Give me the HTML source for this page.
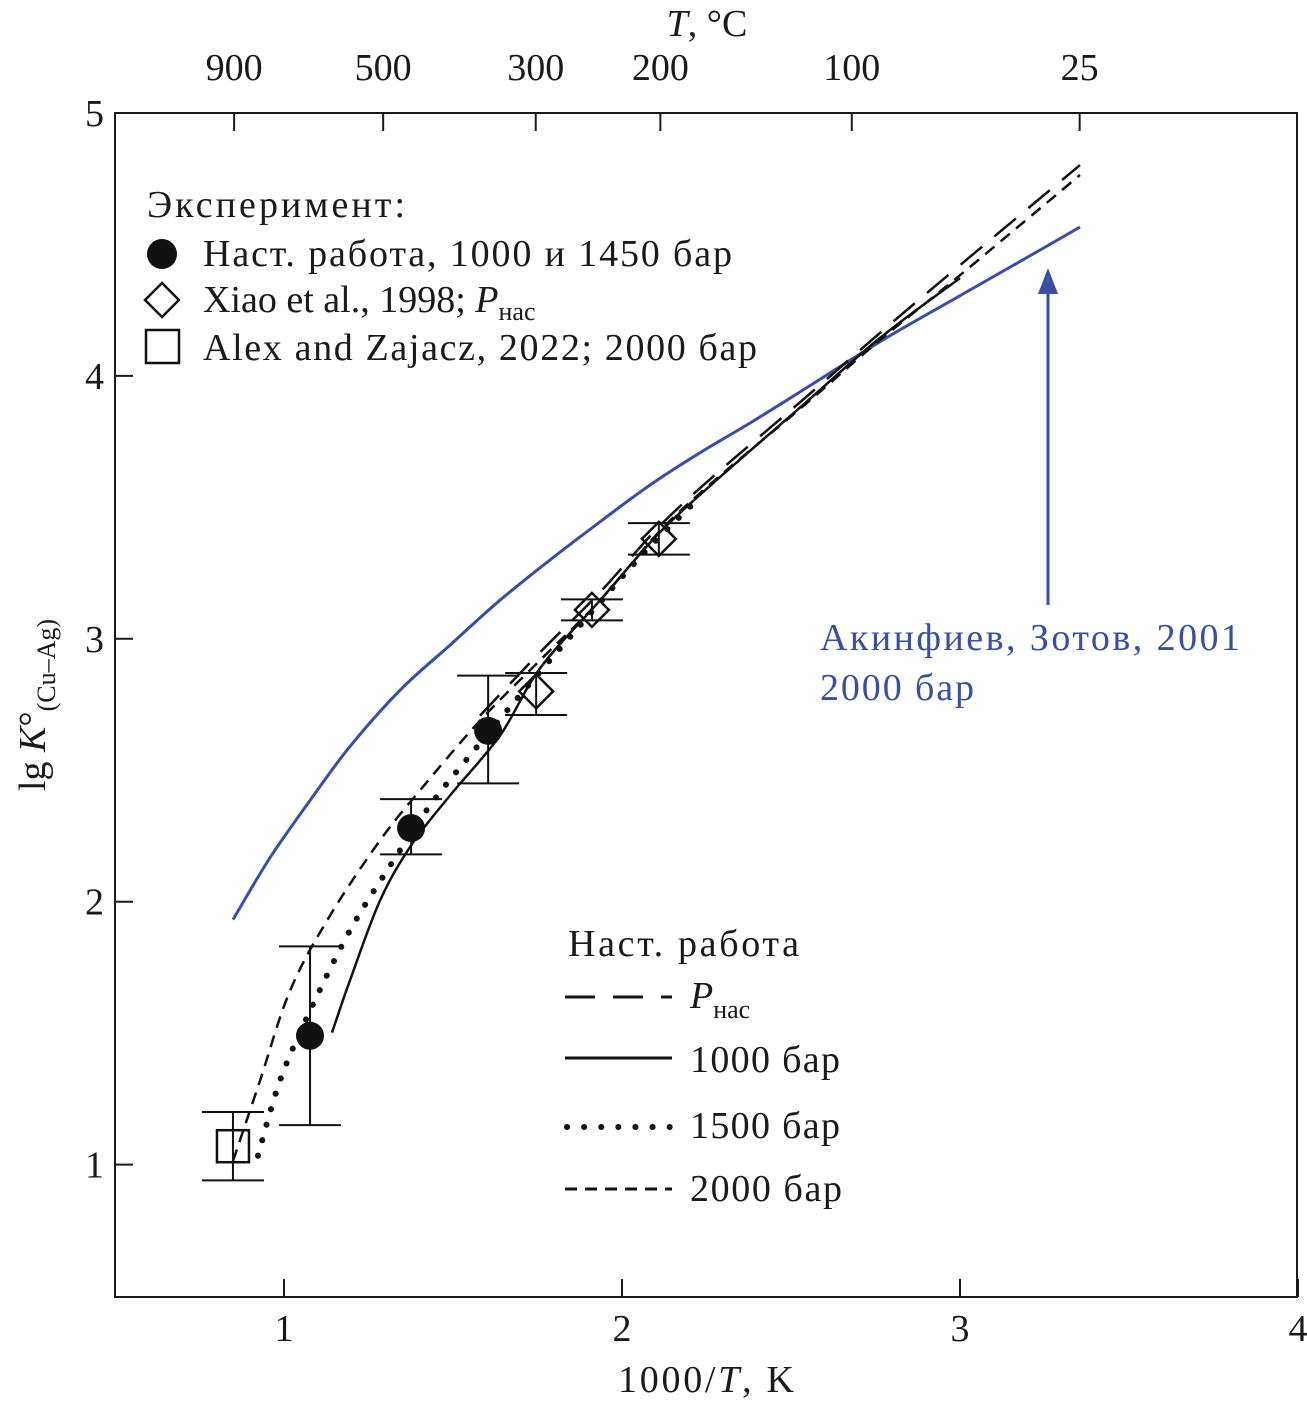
<!DOCTYPE html>
<html><head><meta charset="utf-8"><style>
body{margin:0;background:#fff;}
svg text{font-family:"Liberation Serif",serif;fill:#1a1a1a;}
</style></head><body>
<svg width="1307" height="1404" viewBox="0 0 1307 1404" xmlns="http://www.w3.org/2000/svg" id="svg">
<rect x="115" y="113" width="1182" height="1184" fill="none" stroke="#1a1a1a" stroke-width="2"/>
<g id="axes"></g>
<g id="series"></g>
<g id="marks"></g>
<text x="706" y="1392" font-size="38" text-anchor="middle" textLength="176">1000/<tspan font-style="italic">T</tspan>, K</text>
<text x="707" y="36" font-size="38" text-anchor="middle"><tspan font-style="italic">T</tspan>, °C</text>
<text transform="translate(45,705) rotate(-90)" font-size="38" text-anchor="middle">lg <tspan font-style="italic">K</tspan>°<tspan font-size="26" dy="10">(Cu–Ag)</tspan></text>
<g font-size="38">
<text x="147" y="217" textLength="258">Эксперимент:</text>
<circle cx="162" cy="254" r="15" fill="#111"/>
<text x="203" y="266" textLength="529">Наст. работа, 1000 и 1450 бар</text>
<rect x="150" y="288" width="24" height="24" transform="rotate(45 162 300)" fill="none" stroke="#111" stroke-width="2.5"/>
<text x="203" y="312">Xiao et al., 1998; <tspan font-style="italic">P</tspan><tspan font-size="26" dy="8">нас</tspan></text>
<rect x="146" y="330" width="33" height="33" fill="none" stroke="#111" stroke-width="2.5"/>
<text x="203" y="360" textLength="554">Alex and Zajacz, 2022; 2000 бар</text>
</g>
<g font-size="38">
<text x="568" y="956" textLength="231">Наст. работа</text>
<line x1="565" y1="997" x2="672" y2="997" stroke="#111" stroke-width="3" stroke-dasharray="30,18"/>
<text x="690" y="1008"><tspan font-style="italic">P</tspan><tspan font-size="26" dy="10">нас</tspan></text>
<line x1="565" y1="1058" x2="672" y2="1058" stroke="#111" stroke-width="3"/>
<text x="690" y="1072" textLength="150">1000 бар</text>
<line x1="567" y1="1127" x2="672" y2="1127" stroke="#111" stroke-width="6" stroke-linecap="round" stroke-dasharray="0.1,17"/>
<text x="690" y="1138" textLength="150">1500 бар</text>
<line x1="565" y1="1189" x2="672" y2="1189" stroke="#111" stroke-width="3" stroke-dasharray="12,8"/>
<text x="690" y="1201" textLength="152">2000 бар</text>
</g>
<g>
<line x1="1048" y1="605" x2="1048" y2="290" stroke="#3a4fa0" stroke-width="3"/>
<polygon points="1048,268 1038,294 1058,294" fill="#3a4fa0"/>
<text x="820" y="650" font-size="38" textLength="420" style="fill:#3a4fa0">Акинфиев, Зотов, 2001</text>
<text x="820" y="700" font-size="38" textLength="154" style="fill:#3a4fa0">2000 бар</text>
</g>
</svg>
<script>
const xTicks=[1,2,3,4];
const yTicks=[1,2,3,4,5];
const topTicksC=[900,500,300,200,100,25];
const blueX=[0.849,0.959,1.077,1.195,1.343,1.491,1.639,1.787,1.935,2.083,2.231,2.379,2.571,2.772,3.000,3.237,3.355];
const blueY=[1.932,2.168,2.385,2.590,2.804,2.976,3.147,3.300,3.445,3.585,3.708,3.821,3.975,4.137,4.305,4.479,4.566];
const p2000X=[0.849,0.929,1.018,1.136,1.284,1.402,1.580,1.757,1.935,2.112,2.290,2.527,2.763,3.000,3.355];
const p2000Y=[1.014,1.319,1.662,1.947,2.233,2.423,2.689,2.918,3.146,3.410,3.620,3.875,4.136,4.383,4.764];
const psatX=[1.580,1.757,1.935,2.112,2.290,2.527,2.763,3.000,3.355];
const psatY=[2.708,2.948,3.177,3.430,3.640,3.900,4.163,4.421,4.802];
const p1000X=[1.142,1.195,1.284,1.376,1.491,1.639,1.757,1.935,2.112,2.290,2.527,2.763,3.000];
const p1000Y=[1.502,1.700,2.004,2.214,2.404,2.632,2.887,3.146,3.405,3.615,3.880,4.144,4.372];
const p1500X=[0.923,0.988,1.077,1.195,1.314,1.432,1.550,1.698,1.876,2.053,2.231];
const p1500Y=[1.034,1.319,1.585,1.890,2.137,2.366,2.556,2.785,3.051,3.310,3.540];
const circX=[1.077,1.376,1.604];
const circY=[1.49,2.28,2.65];
const circLo=[1.15,2.18,2.45];
const circHi=[1.83,2.39,2.86];
const diaX=[1.746,1.911,2.109];
const diaY=[2.80,3.11,3.38];
const diaLo=[2.71,3.07,3.32];
const diaHi=[2.87,3.15,3.44];
const sqX=[0.849];
const sqY=[1.07];
const sqLo=[0.94];
const sqHi=[1.20];

const NS="http://www.w3.org/2000/svg";
const sx=v=>115+(v-0.5)*338;
const sy=v=>113+(5-v)*262.9;
function mk(tag,attrs,parent){const e=document.createElementNS(NS,tag);for(const k in attrs)e.setAttribute(k,attrs[k]);parent.appendChild(e);return e;}
const axes=document.getElementById('axes'),ser=document.getElementById('series'),marks=document.getElementById('marks');
xTicks.forEach(t=>{
 const l=mk('line',{x1:sx(t),x2:sx(t),y1:1297,y2:1279,stroke:'#1a1a1a','stroke-width':2},axes);
 
 
 const tx=mk('text',{x:sx(t),y:1341,'font-size':38,'text-anchor':'middle'},axes);tx.textContent=t;
 
 
});
yTicks.forEach(t=>{
 const l=mk('line',{x1:115,x2:133,y1:sy(t),y2:sy(t),stroke:'#1a1a1a','stroke-width':2},axes);
 
 
 const tx=mk('text',{x:104,y:sy(t)+13,'font-size':38,'text-anchor':'end'},axes);tx.textContent=t;
 
 
});
topTicksC.forEach(t=>{
 const x=sx(1000/(t+273.15));
 const l=mk('line',{x1:x,x2:x,y1:113,y2:131,stroke:'#1a1a1a','stroke-width':2},axes);
 
 
 const tx=mk('text',{x:x,y:80,'font-size':38,'text-anchor':'middle'},axes);tx.textContent=t;
 
 
});
function smoothPath(X,Y){
 const P=X.map((x,i)=>[sx(x),sy(Y[i])]);
 let d='M'+P[0][0].toFixed(1)+','+P[0][1].toFixed(1);
 for(let i=0;i<P.length-1;i++){
  const p0=P[Math.max(0,i-1)],p1=P[i],p2=P[i+1],p3=P[Math.min(P.length-1,i+2)];
  const c1=[p1[0]+(p2[0]-p0[0])/6,p1[1]+(p2[1]-p0[1])/6];
  const c2=[p2[0]-(p3[0]-p1[0])/6,p2[1]-(p3[1]-p1[1])/6];
  d+=' C'+c1.map(v=>v.toFixed(1)).join(',')+' '+c2.map(v=>v.toFixed(1)).join(',')+' '+p2.map(v=>v.toFixed(1)).join(',');
 }
 return d;
}
function line(X,Y,name,stroke,w,dash,cap){
 const p=mk('path',{d:smoothPath(X,Y),fill:'none',stroke:stroke,'stroke-width':w,'stroke-linejoin':'round'},ser);
 if(dash)p.setAttribute('stroke-dasharray',dash);
 if(cap)p.setAttribute('stroke-linecap',cap);
 
 
}
line(blueX,blueY,'akinfiev-2000bar-line','#3a4fa0',3);
line(p2000X,p2000Y,'line-2000bar','#111',2.5,'12,8');
line(psatX,psatY,'line-psat','#111',2.5,'28,16');
line(p1000X,p1000Y,'line-1000bar','#111',2.5);
line(p1500X,p1500Y,'line-1500bar','#111',6,'0.1,16','round');
function err(x,lo,hi,hw){
 const g=mk('g',{stroke:'#111','stroke-width':2},marks);
 
 
 mk('line',{x1:sx(x),x2:sx(x),y1:sy(lo),y2:sy(hi)},g);
 mk('line',{x1:sx(x)-hw,x2:sx(x)+hw,y1:sy(lo),y2:sy(lo)},g);
 mk('line',{x1:sx(x)-hw,x2:sx(x)+hw,y1:sy(hi),y2:sy(hi)},g);
}
circX.forEach((x,i)=>{err(x,circLo[i],circHi[i],31);
 const c=mk('circle',{cx:sx(x),cy:sy(circY[i]),r:14,fill:'#111'},marks);
 
 });
diaX.forEach((x,i)=>{err(x,diaLo[i],diaHi[i],31);
 const cx=sx(x),cy=sy(diaY[i]);
 const r=mk('rect',{x:cx-12,y:cy-12,width:24,height:24,fill:'none',stroke:'#111','stroke-width':2.5,transform:`rotate(45 ${cx} ${cy})`},marks);
 
 });
sqX.forEach((x,i)=>{err(x,sqLo[i],sqHi[i],31);
 const r=mk('rect',{x:sx(x)-16,y:sy(sqY[i])-16,width:32,height:32,fill:'none',stroke:'#111','stroke-width':2.5},marks);
 
 });
</script>
</body></html>
